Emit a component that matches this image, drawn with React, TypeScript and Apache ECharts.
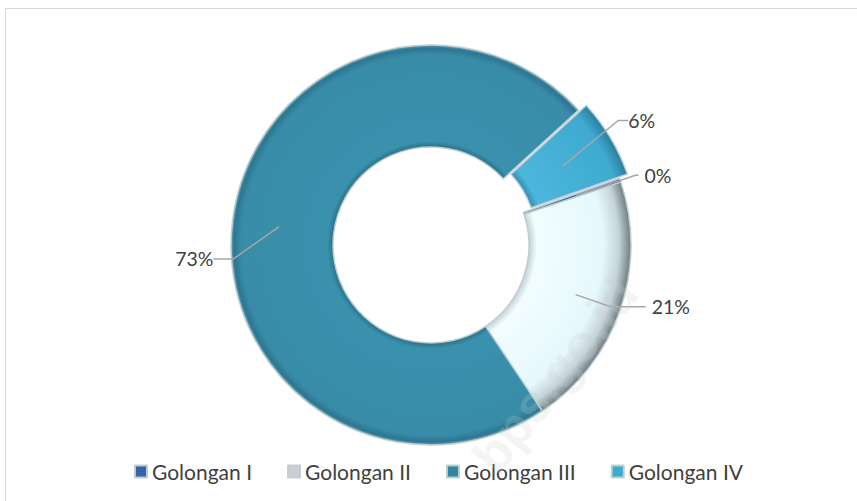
import React, { useEffect, useRef } from 'react';
import * as echarts from 'echarts';

// ---- data ----
const categories = ['Golongan I', 'Golongan II', 'Golongan III', 'Golongan IV'];
const values = [0.3, 20.7, 72.6, 6.4];

// ---- style (not data) ----
const legendColors = ['#3463A6', '#C9CFD2', '#2F87A4', '#3CA9CF'];
const labelLineLen = [63, 37, 40, 70];
const labelLineLen2 = [3, 35, 20, 10];
const labelPadding: [number, number, number, number][] = [
  [0, 0, 0, 0],
  [0, 0, 0, 0],
  [0, 8, 0, 0],
  [0, 0, 0, 8],
];
// label nudges (dx, dy) relative to the position the pie layout computes
const labelNudge: Record<number, [number, number]> = { 2: [16, 37], 3: [-26, -10] };

const CX = 431;
const CY = 245;
const R_OUT = 200;
const R_IN = 98;

function radial(stops: [number, string][]) {
  return {
    type: 'radial',
    x: CX,
    y: CY,
    r: R_OUT,
    global: true,
    colorStops: stops.map(([offset, color]) => ({ offset, color })),
  };
}

const sliceFills = [
  radial([
    [0.49, '#24508F'],
    [0.53, '#3A6CB0'],
    [0.95, '#3463A6'],
    [1, '#244A80'],
  ]),
  radial([
    [0.49, '#C4D2D6'],
    [0.53, '#F2FDFF'],
    [0.86, '#E6F8FC'],
    [0.94, '#C4D3D8'],
    [1, '#6E7C81'],
  ]),
  radial([
    [0.49, '#2A7189'],
    [0.52, '#3A91AD'],
    [0.95, '#388CA8'],
    [0.985, '#2D7590'],
    [1, '#6FA8BA'],
  ]),
  radial([
    [0.49, '#2F8EB1'],
    [0.53, '#4CB7DB'],
    [0.93, '#3FAAD0'],
    [1, '#2A7E9E'],
  ]),
];

export default function App() {
  const ref = useRef<HTMLDivElement>(null);

  useEffect(() => {
    if (!ref.current) return;
    const chart = echarts.init(ref.current, undefined, { renderer: 'svg' });
    const font = 'Lato, "Open Sans", sans-serif';

    const mainData = categories.map((name, i) => ({
      name,
      value: values[i],
      selected: i === 3,
      itemStyle: { color: sliceFills[i] },
    }));

    const labelData = categories.map((name, i) => ({
      name,
      value: values[i],
      label: { padding: labelPadding[i] },
      labelLine: { length: labelLineLen[i], length2: labelLineLen2[i] },
    }));

    chart.setOption({
      animation: false,
      backgroundColor: '#ffffff',
      legend: {
        top: 456,
        left: 129,
        icon: 'rect',
        itemWidth: 12,
        itemHeight: 12,
        itemGap: 35,
        textStyle: { fontFamily: font, fontSize: 21, color: '#404040' },
        selectedMode: false,
        data: categories.map((name, i) => ({
          name,
          itemStyle: { color: legendColors[i] },
        })),
      },
      graphic: [
        {
          type: 'rect',
          shape: { x: 5.5, y: 8.5, width: 900, height: 600 },
          style: { fill: 'none', stroke: '#D9D9D9', lineWidth: 1 },
          silent: true,
        },
        {
          type: 'text',
          x: 555,
          y: 375,
          rotation: (52 * Math.PI) / 180,
          z: 100,
          silent: true,
          style: {
            text: 'bps.go.id',
            fontFamily: 'Arial, sans-serif',
            fontWeight: 'bold',
            fontSize: 52,
            fill: 'rgba(205,205,205,0.22)',
            align: 'center',
            verticalAlign: 'middle',
          },
        },
      ],
      series: [
        {
          type: 'pie',
          center: [CX, CY],
          radius: [R_IN, R_OUT],
          startAngle: 19.4,
          clockwise: true,
          selectedMode: 'single',
          selectedOffset: 9,
          avoidLabelOverlap: false,
          silent: true,
          label: { show: false },
          labelLine: { show: false },
          itemStyle: { borderColor: 'rgba(190,205,210,0.95)', borderWidth: 1.5 },
          select: { itemStyle: { borderColor: 'rgba(190,205,210,0.95)', borderWidth: 1.5 } },
          emphasis: { disabled: true },
          data: mainData,
        },
        {
          type: 'pie',
          center: [CX, CY],
          radius: [0, 153],
          startAngle: 19.4,
          clockwise: true,
          silent: true,
          z: 5,
          avoidLabelOverlap: false,
          itemStyle: { color: 'rgba(0,0,0,0)', borderWidth: 0 },
          emphasis: { disabled: true },
          label: {
            show: true,
            position: 'outside',
            formatter: (p: any) => Math.round(p.value) + '%',
            fontFamily: font,
            fontSize: 19.5,
            color: '#404040',
            distanceToLabelLine: 6,
          },
          labelLine: {
            show: true,
            lineStyle: { color: '#A6A6A6', width: 1.5 },
          },
          labelLayout: (p: any) => {
            const off = labelNudge[p.dataIndex];
            if (!off) return {};
            const r = p.labelRect;
            const ax =
              p.align === 'right' ? r.x + r.width : p.align === 'center' ? r.x + r.width / 2 : r.x;
            return { x: ax + off[0], y: r.y + r.height / 2 + off[1] };
          },
          data: labelData,
        },
      ],
    });

    return () => chart.dispose();
  }, []);

  return (
    <div
      ref={ref}
      style={{ position: 'fixed', left: 0, top: 0, width: 857, height: 501 }}
    />
  );
}
